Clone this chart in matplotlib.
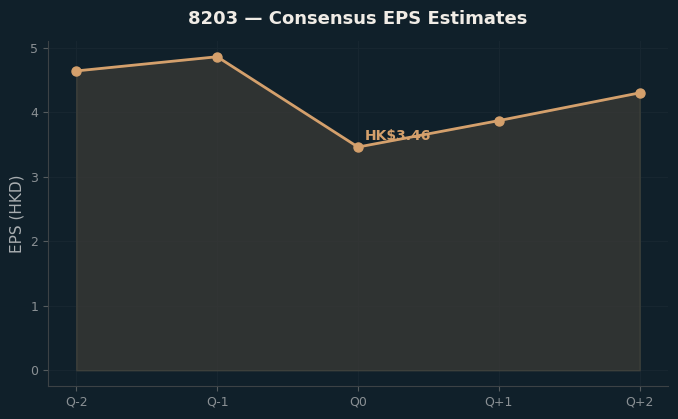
import matplotlib
matplotlib.use("Agg")
import matplotlib.pyplot as plt
import numpy as np

# consensus EPS by quarter
quarters = ["Q-2", "Q-1", "Q0", "Q+1", "Q+2"]
eps = [4.64, 4.86, 3.46, 3.87, 4.30]

BG = "#10202a"
LINE = "#d4a06c"
TICK = "#8a9094"

fig, ax = plt.subplots(figsize=(6.78, 4.19), dpi=100)
fig.patch.set_facecolor(BG)
ax.set_facecolor(BG)
fig.subplots_adjust(left=0.071, right=0.985, bottom=0.079, top=0.902)

x = np.arange(len(quarters))
ax.fill_between(x, eps, 0, color="#3a3a36", alpha=0.75, edgecolor="#45463e", linewidth=1)
ax.plot(x, eps, color=LINE, linewidth=2, marker="o", markersize=6.5)

ax.annotate("HK$%.2f" % eps[2], (x[2], eps[2]), xytext=(5, 5), textcoords="offset points",
            color=LINE, fontsize=10, fontweight="bold")

ax.set_xticks(x)
ax.set_xticklabels(quarters)
ax.set_yticks(range(0, 6))
ax.grid(True, color="#172630", linewidth=0.8)
ax.set_axisbelow(True)

for s in ["top", "right"]:
    ax.spines[s].set_visible(False)
for s in ["left", "bottom"]:
    ax.spines[s].set_color("#3c4245")
ax.tick_params(colors=TICK, labelsize=9)
ax.tick_params(axis="both", color="#555b5e")

ax.set_ylabel("EPS (HKD)", color="#a9aeb1", fontsize=11)
ax.set_title("8203 — Consensus EPS Estimates", color="#f0ece6", fontsize=13,
             fontweight="bold", pad=12)

fig.savefig("out.png", dpi=100, facecolor=BG)
